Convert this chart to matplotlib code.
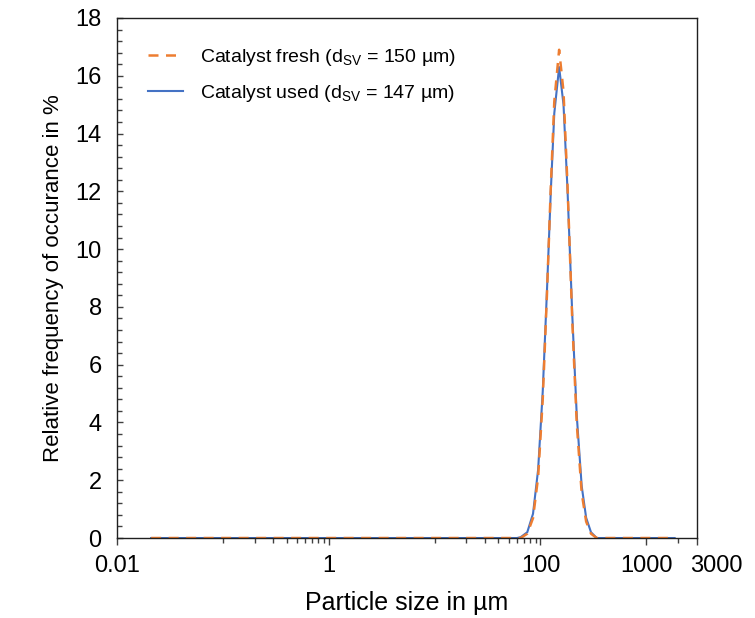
import matplotlib
matplotlib.use("Agg")
import matplotlib.pyplot as plt
import matplotlib.transforms as mtransforms
from matplotlib.ticker import FixedLocator, NullFormatter

plt.rcParams['font.family'] = ['Liberation Sans', 'DejaVu Sans']
plt.rcParams['mathtext.fontset'] = 'custom'
plt.rcParams['mathtext.rm'] = 'Liberation Sans'

# particle size classes in um and relative frequency in %
size_um = [0.021, 0.1, 1, 10, 50, 60, 65, 75, 85, 95, 105, 115, 125, 135, 150,
           165, 180, 200, 220, 245, 270, 300, 340, 400, 1000, 1850]
freq_fresh = [0, 0, 0, 0, 0, 0, 0, 0.15, 0.69, 2.11, 4.8, 8.4, 12.1, 15.1, 16.9,
              15.45, 12.2, 7.45, 3.97, 1.56, 0.57, 0.15, 0, 0, 0, 0]
freq_used = [0, 0, 0, 0, 0, 0, 0.03, 0.2, 0.84, 2.37, 5.07, 8.52, 11.96, 14.7, 16.3,
             15.0, 12.05, 7.65, 4.25, 1.8, 0.7, 0.2, 0, 0, 0, 0]

label_fresh = 'Catalyst fresh (d$_{\\mathrm{SV}}$ = 150 µm)'
label_used = 'Catalyst used (d$_{\\mathrm{SV}}$ = 147 µm)'

x_major = [0.01, 1, 100, 1000, 3000]
x_major_labels = ['0.01', '1', '100', '1000', '']
x_minor = [0.1, 0.2, 0.3, 0.4, 0.5, 0.6, 0.7, 0.8, 0.9,
           10, 20, 30, 40, 50, 60, 70, 80, 90, 2000]

orange = '#ED7D31'
blue = '#4472C4'

fig = plt.figure(figsize=(7.55, 6.18), dpi=100)
ax = fig.add_axes([0.155, 0.1294, 0.768, 0.8415])

l_used, = ax.plot(size_um, freq_used, color=blue, lw=1.5, label=label_used)
l_fresh, = ax.plot(size_um, freq_fresh, color=orange, lw=1.8, dashes=(4, 3),
                   label=label_fresh)

ax.set_xscale('log')
ax.set_xlim(0.01, 3000)
ax.set_ylim(0, 18)

ax.xaxis.set_major_locator(FixedLocator(x_major))
ax.set_xticklabels(x_major_labels)
ax.xaxis.set_minor_locator(FixedLocator(x_minor))
ax.xaxis.set_minor_formatter(NullFormatter())
ax.set_yticks(range(0, 19, 2))
ax.yaxis.set_minor_locator(FixedLocator([i * 0.4 for i in range(46)]))

ax.tick_params(axis='x', which='major', direction='out', length=5, width=1,
               color='#404040', labelsize=17, pad=7)
ax.tick_params(axis='x', which='minor', direction='out', length=3.6, width=1,
               color='#404040')
ax.tick_params(axis='y', which='major', direction='in', length=4.5, width=1,
               color='#404040', labelsize=17, pad=11)
ax.tick_params(axis='y', which='minor', direction='in', length=3.6, width=1,
               color='#404040')
for s in ax.spines.values():
    s.set_color('#202020')
    s.set_linewidth(1)

# last label sits a bit to the right of the axis end so it does not touch "1000"
off = mtransforms.ScaledTranslation(14 / 72, -12 / 72, fig.dpi_scale_trans)
ax.text(3000, 0, '3000', fontsize=17, ha='center', va='top',
        transform=ax.get_xaxis_transform() + off)

ax.set_xlabel('Particle size in µm', fontsize=18, labelpad=10.5)
ax.set_ylabel('Relative frequency of occurance in %', fontsize=16, labelpad=8.5)

ax.legend(handles=[l_fresh, l_used], loc='upper left', frameon=False,
          fontsize=14, handlelength=1.8, handletextpad=0.85, labelspacing=0.8,
          borderaxespad=0, bbox_to_anchor=(0.04, 0.96))

fig.savefig('out.png', dpi=100)
